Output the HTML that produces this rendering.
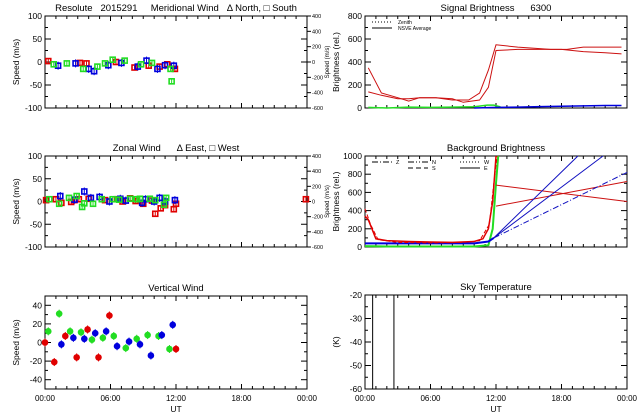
<!DOCTYPE html>
<html><head><meta charset="utf-8">
<style>
html,body{margin:0;padding:0;background:#fff;}
svg{display:block;font-family:"Liberation Sans",sans-serif;}
text{fill:#000;white-space:pre;}
</style></head>
<body>
<svg id="c" width="640" height="420" viewBox="0 0 640 420"></svg>
<script>
// ---------- data ----------
const merRedT=[0.3,3.2,3.8,6.5,8.2,9.5,10.5,11.2,11.9];
const merRedV=[2,-2,-3,0,-12,-8,-10,-5,-15];
const merBlueT=[1.2,2.8,4.0,4.5,5.8,7.0,8.5,9.3,10.3,11.0,11.8];
const merBlueV=[-8,-3,-15,-20,-7,-2,-10,3,-15,-7,-8];
const merGreenT=[0.8,2.0,3.5,4.8,5.5,6.2,7.3,8.8,9.8,11.5,11.6];
const merGreenV=[-5,-3,-15,-10,-3,5,3,-5,-2,-15,-42];

const zonRedT=[0.1,1,1.5,2.4,2.7,3.1,4.0,5.5,6.6,7.1,7.8,8.3,9.0,9.8,10.1,10.6,11.0,11.8,12.0,23.9];
const zonRedV=[3,5,-3,-1,3,5,6,3,5,0,7,1,-5,2,-27,-15,-8,-17,-5,5];
const zonBlueT=[1.4,2.7,3.6,4.2,5.0,5.9,6.9,7.4,8.9,9.2,10.0,10.5,11.0,11.9];
const zonBlueV=[12,4,22,8,10,0,6,2,-3,5,0,8,0,3];
const zonGreenT=[0.4,1.3,2.2,2.9,3.4,3.6,4.4,5.2,6.2,6.8,7.8,8.4,8.7,9.6,10.1,10.9,11.1];
const zonGreenV=[5,-5,8,12,-12,-4,-5,5,5,4,6,5,6,6,3,-7,8];

const vertRedT=[0.0,0.85,1.86,2.9,3.9,4.9,5.9,12.0];
const vertRedV=[0,-21,7,-16,14,-16,29,-7];
const vertGreenT=[0.3,1.3,2.3,3.3,4.3,5.3,6.3,7.4,8.4,9.4,10.4,11.4];
const vertGreenV=[12,31,12,11,3,5,7,-6,4,8,7,-7];
const vertBlueT=[1.5,2.6,3.6,4.6,5.6,6.6,7.7,8.7,9.7,10.7,11.7];
const vertBlueV=[-2,5,4,10,12,-4,1,-2,-14,8,19];

const sigRed1T=[0.3,1.5,3,4,5,6.5,8,9.5,10.5,11.3,12,14,17,18.5,20,22,23.5];
const sigRed1V=[350,130,90,60,90,90,70,70,130,330,550,530,510,510,530,530,530];
const sigRed2T=[0.3,1.5,3,4,5,6.5,8,9,10.5,11.3,12,14,17,18,20,22,23.5];
const sigRed2V=[140,110,80,80,90,90,80,50,70,180,500,510,510,510,490,480,470];
const sigGreenT=[0.3,2,4,6,8,10,11.2,11.8,12.4];
const sigGreenV=[5,0,8,5,8,10,25,25,10];
const sigBlueT=[10,12,14,16,18,20,22,23.5];
const sigBlueV=[0,5,8,12,15,18,22,22];

const bgRed1T=[0,0.3,1,2,4,6,8,10,10.8,11.3,11.7,12.0];
const bgRed1V=[340,300,90,70,60,55,50,60,90,200,500,1000];
const bgRed2T=[0,0.5,1.2,3,6,9,10.5,11.4,11.8,12.1];
const bgRed2V=[420,250,80,50,45,50,70,250,700,1000];
const bgRed3T=[12,24];const bgRed3V=[680,500];
const bgRed4T=[12,24];const bgRed4V=[450,720];
const bgBlueT=[0,2,6,10,11.3,11.8];const bgBlueV=[40,40,40,40,60,100];
const bgBlue1T=[11.8,19.5];const bgBlue1V=[100,1000];
const bgBlue2T=[11.8,21.8];const bgBlue2V=[100,1000];
const bgBlue3T=[11.8,24];const bgBlue3V=[100,820];
const bgGreenT=[0,2,6,10,11.3,11.7,12.0,12.2];const bgGreenV=[10,5,5,5,20,200,700,1000];

const skyT=[0.7,2.65];

const hourTicks=[0,6,12,18,24];
const hourLabels=["00:00","06:00","12:00","18:00","00:00"];
const windTicks=[-100,-50,0,50,100];
const vertTicks=[-40,-20,0,20,40];
const sigTicks=[0,200,400,600,800];
const bgTicks=[0,200,400,600,800,1000];
const skyTicks=[-60,-50,-40,-30,-20];
const rightLabels=["400","400","200","0","-200","-400","-600"];

// ---------- helpers ----------
const svg=document.getElementById('c');
const NS='http://www.w3.org/2000/svg';
function mk(tag,attrs,parent){const e=document.createElementNS(NS,tag);for(const k in attrs)e.setAttribute(k,attrs[k]);(parent||svg).appendChild(e);return e;}
function txt(x,y,s,size,anchor,parent,rot){const t=mk('text',{x:x,y:y,'font-size':size,'text-anchor':anchor||'middle'},parent);if(rot)t.setAttribute('transform','rotate(-90 '+x+' '+y+')');t.textContent=s;return t;}

function panel(name,x0,x1,y0,y1,ymin,ymax,yticks,ytitle,title,xlabels,minorY){
  const g=mk('g',{});
  
  
  const sx=t=>x0+(t/24)*(x1-x0);
  const sy=v=>y1-(v-ymin)/(ymax-ymin)*(y1-y0);
  const box=mk('rect',{x:x0,y:y0,width:x1-x0,height:y1-y0,fill:'none',stroke:'#000','stroke-width':1},g);
  
  
  for(let h=0;h<=24;h++){
    const L=(h%6===0)?5:3;
    mk('line',{x1:sx(h),x2:sx(h),y1:y1,y2:y1-L,stroke:'#000','stroke-width':1},g);
    mk('line',{x1:sx(h),x2:sx(h),y1:y0,y2:y0+L,stroke:'#000','stroke-width':1},g);
  }
  yticks.forEach(v=>{
    mk('line',{x1:x0,x2:x0+6,y1:sy(v),y2:sy(v),stroke:'#000'},g);
    mk('line',{x1:x1,x2:x1-6,y1:sy(v),y2:sy(v),stroke:'#000'},g);
    const t=txt(x0-3,sy(v)+3,String(v),8.5,'end',g);
    
    
  });
  if(minorY){for(let i=0;i<yticks.length-1;i++){const m=(yticks[i]+yticks[i+1])/2;mk('line',{x1:x0,x2:x0+3,y1:sy(m),y2:sy(m),stroke:'#000'},g);mk('line',{x1:x1,x2:x1-3,y1:sy(m),y2:sy(m),stroke:'#000'},g);}}
  const yt=txt(x0-26,(y0+y1)/2,ytitle,8.5,'middle',g,true);
  
  
  const tt=txt((x0+x1)/2,y0-5,title,9.5,'middle',g);
  
  
  if(xlabels){
    hourTicks.forEach((h,i)=>{const t=txt(sx(h),y1+12,hourLabels[i],8,'middle',g);});
    const u=txt((x0+x1)/2,y1+23,'UT',8.5,'middle',g);
    
    
  }
  return {g,sx,sy};
}
function rightAxis(p,x1,y0,y1){
  const n=rightLabels.length;
  rightLabels.forEach((s,i)=>{const y=y0+i*(y1-y0)/(n-1);mk('line',{x1:x1,x2:x1+4,y1:y,y2:y,stroke:'#000'},p.g);const t=txt(x1+5,y+2,s,5.5,'start',p.g);});
  const t=txt(x1+22,(y0+y1)/2,'Speed (m/s)',6,'middle',p.g,true);
  
  
}
function squares(p,T,V,col,name,err){
  T.forEach((t,i)=>{
    const x=p.sx(t),y=p.sy(V[i]);
    if(err){mk('line',{x1:x,x2:x,y1:y-err,y2:y+err,stroke:col,'stroke-width':1},p.g);}
    const r=mk('rect',{x:x-2.5,y:y-2.5,width:5,height:5,fill:'none',stroke:col,'stroke-width':1.6},p.g);
    
    
  });
}
function dots(p,T,V,col,name){
  T.forEach((t,i)=>{
    const x=p.sx(t),y=p.sy(V[i]);
    mk('line',{x1:x,x2:x,y1:y-4,y2:y+4,stroke:col,'stroke-width':1},p.g);
    const c=mk('circle',{cx:x,cy:y,r:3.3,fill:col},p.g);
    
    
  });
}
function line(p,T,V,col,name,dash,w){
  const d=T.map((t,i)=>(i?'L':'M')+p.sx(t).toFixed(1)+' '+p.sy(V[i]).toFixed(1)).join(' ');
  const a={d:d,fill:'none',stroke:col,'stroke-width':w||1};
  if(dash)a['stroke-dasharray']=dash;
  const e=mk('path',a,p.g);
  
  
}
const R='#e00000',G='#22dd22',B='#0000dd',DR='#cc1010',DB='#1010c0';

// ---------- panels ----------
const pm=panel('meridional-wind-panel',45,307,16,108,-100,100,windTicks,'Speed (m/s)','Resolute   2015291     Meridional Wind   \u0394 North, \u25A1 South',false,true);
rightAxis(pm,307,16,108);
squares(pm,merRedT,merRedV,R,'meridional-red-point',3);
squares(pm,merBlueT,merBlueV,B,'meridional-blue-point',4);
squares(pm,merGreenT,merGreenV,G,'meridional-green-point',3);

const pz=panel('zonal-wind-panel',45,307,156,247,-100,100,windTicks,'Speed (m/s)','Zonal Wind      \u0394 East, \u25A1 West',false,true);
rightAxis(pz,307,156,247);
squares(pz,zonRedT,zonRedV,R,'zonal-red-point',2);
squares(pz,zonBlueT,zonBlueV,B,'zonal-blue-point',4);
squares(pz,zonGreenT,zonGreenV,G,'zonal-green-point',3);

const pv=panel('vertical-wind-panel',45,307,296,389,-50,50,vertTicks,'Speed (m/s)','Vertical Wind',true,true);
dots(pv,vertRedT,vertRedV,R,'vertical-red-point');
dots(pv,vertGreenT,vertGreenV,G,'vertical-green-point');
dots(pv,vertBlueT,vertBlueV,B,'vertical-blue-point');

const ps=panel('signal-brightness-panel',365,627,16,108,0,800,sigTicks,'Brightness (rel.)','Signal Brightness      6300',false,true);
line(ps,sigRed1T,sigRed1V,DR,'signal-red-line-1');
line(ps,sigRed2T,sigRed2V,DR,'signal-red-line-2');
line(ps,sigGreenT,sigGreenV,G,'signal-green-line',null,1.5);
line(ps,sigBlueT,sigBlueV,B,'signal-blue-line',null,1.5);
mk('line',{x1:372,x2:392,y1:22,y2:22,stroke:'#000','stroke-dasharray':'1,2'},ps.g);
mk('line',{x1:372,x2:392,y1:28,y2:28,stroke:'#000'},ps.g);
txt(398,24,'Zenith',5,'start',ps.g);
txt(398,30,'NSVE Average',5,'start',ps.g);

const pb=panel('background-brightness-panel',365,627,156,247,0,1000,bgTicks,'Brightness (rel.)','Background Brightness',false,true);
line(pb,bgGreenT,bgGreenV,G,'background-green-line',null,2);
line(pb,bgBlueT,bgBlueV,B,'background-blue-line',null,2);
line(pb,bgRed1T,bgRed1V,R,'background-red-line-1',null,1.5);
line(pb,bgRed2T,bgRed2V,R,'background-red-line-2','4,2',1);
line(pb,bgRed3T,bgRed3V,DR,'background-red-line-3');
line(pb,bgRed4T,bgRed4V,DR,'background-red-line-4');
line(pb,bgBlue1T,bgBlue1V,DB,'background-blue-line-1');
line(pb,bgBlue2T,bgBlue2V,DB,'background-blue-line-2');
line(pb,bgBlue3T,bgBlue3V,DB,'background-blue-line-3','6,2,1,2');
[['Z',372,162,'6,2,1,2'],['N',408,162,'6,2,1,2,1,2'],['S',408,168,'5,3'],['W',460,162,'1,2'],['E',460,168,null]].forEach(a=>{
  const at={x1:a[1],x2:a[1]+20,y1:a[2],y2:a[2],stroke:'#000'};if(a[3])at['stroke-dasharray']=a[3];
  mk('line',at,pb.g);
  const t=txt(a[1]+24,a[2]+2,a[0],5.5,'start',pb.g);
  
  
});

const pk=panel('sky-temperature-panel',365,627,295,389,-60,-20,skyTicks,'(K)','Sky Temperature',true,true);
skyT.forEach(t=>{
  const l=mk('line',{x1:pk.sx(t),x2:pk.sx(t),y1:295,y2:389,stroke:'#000','stroke-width':1},pk.g);
  
  
});
</script>
</body></html>
